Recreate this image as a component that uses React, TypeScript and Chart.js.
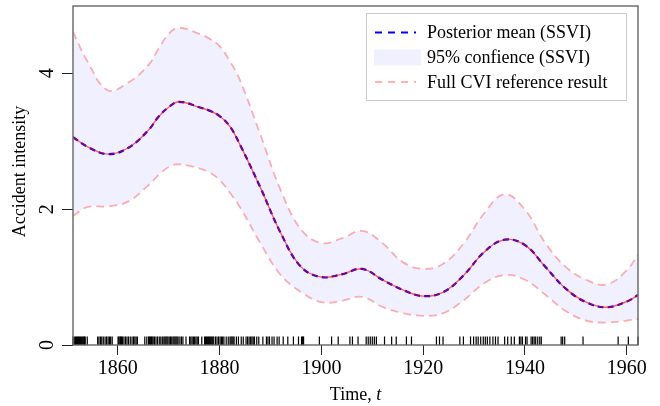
import React, { useEffect, useRef } from "react";
import { Chart, registerables } from "chart.js";

Chart.register(...registerables);

// ---------- data ----------
const years = [
  1851.2, 1854, 1858, 1862, 1866, 1868, 1870, 1872, 1876, 1878, 1880, 1882, 1884, 1888, 1892,
  1896, 1900, 1904, 1908, 1912, 1916, 1920, 1924, 1928, 1932, 1936, 1940, 1944, 1948, 1952,
  1956, 1960, 1962.2,
];
const meanIntensity = [
  3.06, 2.92, 2.81, 2.9, 3.16, 3.36, 3.5, 3.58, 3.5, 3.45, 3.37, 3.22, 2.95, 2.32, 1.65,
  1.15, 1.0, 1.04, 1.12, 0.96, 0.81, 0.72, 0.78, 1.03, 1.37, 1.55, 1.47, 1.15, 0.83, 0.63,
  0.555, 0.64, 0.735,
];
const upper95 = [
  4.61, 4.18, 3.75, 3.86, 4.12, 4.36, 4.58, 4.67, 4.58, 4.51, 4.4, 4.18, 3.9, 3.1, 2.28,
  1.7, 1.5, 1.57, 1.68, 1.5, 1.22, 1.12, 1.2, 1.5, 1.94, 2.22, 1.99, 1.5, 1.15, 0.96,
  0.89, 1.1, 1.33,
];
const lower95 = [
  1.9, 2.03, 2.04, 2.11, 2.35, 2.5, 2.62, 2.66, 2.6, 2.54, 2.43, 2.24, 2.03, 1.5, 1.03,
  0.78, 0.63, 0.65, 0.71, 0.56, 0.47, 0.43, 0.47, 0.66, 0.91, 1.03, 0.96, 0.74, 0.5, 0.36,
  0.33, 0.36, 0.38,
];
const eventTimes = [
  1851.2, 1851.45, 1851.7, 1851.9,
  1852.1, 1852.3, 1852.5, 1852.7, 1852.9,
  1853.1, 1853.3, 1853.45, 1853.6,
  1854.0,
  1856.05, 1856.3, 1856.6, 1856.85,
  1857.15, 1857.5, 1857.8,
  1858.1, 1858.35, 1858.6, 1858.9,
  1860.05, 1860.2, 1860.4, 1860.55, 1860.75, 1860.9,
  1861.2, 1861.5, 1861.8,
  1862.1, 1862.45, 1862.8,
  1863.1, 1863.35, 1863.6, 1863.85,
  1865.3, 1865.7,
  1866.05, 1866.2, 1866.4, 1866.6, 1866.75, 1866.95,
  1867.2, 1867.5, 1867.8,
  1868.15, 1868.45, 1868.75,
  1869.05, 1869.25, 1869.45, 1869.65, 1869.85,
  1870.1, 1870.35, 1870.6, 1870.85,
  1871.05, 1871.25, 1871.45, 1871.65, 1871.85,
  1872.2, 1872.5, 1872.8,
  1873.4,
  1874.1, 1874.35, 1874.6, 1874.85,
  1875.1, 1875.35, 1875.6, 1875.85,
  1876.5,
  1877.05, 1877.25, 1877.45, 1877.65, 1877.85,
  1878.05, 1878.25, 1878.45, 1878.65, 1878.85,
  1879.2, 1879.5, 1879.8,
  1880.1, 1880.35, 1880.6, 1880.85,
  1881.3, 1881.7,
  1882.05, 1882.25, 1882.45, 1882.65, 1882.85,
  1883.3, 1883.7,
  1884.25, 1884.65,
  1885.2, 1885.5, 1885.8,
  1886.1, 1886.35, 1886.6, 1886.85,
  1887.3, 1887.7,
  1888.5,
  1889.2, 1889.5, 1889.8,
  1890.3, 1890.7,
  1891.3, 1891.7,
  1892.5, 1893.4, 1894.5, 1895.5,
  1896.1, 1896.3, 1896.5,
  1899.6, 1902.0, 1903.3, 1905.6, 1906.1, 1907.2,
  1908.8, 1909.2, 1909.6, 1910.0, 1910.4, 1910.8,
  1912.4, 1913.8, 1914.7, 1916.7, 1917.7,
  1922.6, 1923.2, 1923.9, 1927.2, 1927.9,
  1929.3, 1929.9, 1930.4, 1930.8, 1931.3, 1931.8, 1932.2, 1932.6, 1933.1, 1933.7, 1934.2, 1934.7,
  1936.0, 1936.6, 1937.3, 1937.9, 1938.9, 1939.2, 1939.5, 1940.1, 1940.4,
  1941.2, 1941.5, 1941.8, 1942.1, 1942.5, 1942.9, 1943.2,
  1947.1, 1947.4, 1947.8, 1951.4, 1958.3, 1960.3, 1962.2,
];
const xTickValues = [1860, 1880, 1900, 1920, 1940, 1960];
const yTickValues = [0, 2, 4];
const legendLabels = ["Posterior mean (SSVI)", "95% confience (SSVI)", "Full CVI reference result"];
const xAxisTitle = "Time, ";
const xAxisVariable = "t";
const yAxisTitle = "Accident intensity";

// ---------- styling ----------
const SERIF = '"Liberation Serif", "Times New Roman", serif';
const BAND_FILL = "rgba(0,0,255,0.06)";
const CVI_COLOR = "rgba(255,0,0,0.3)";
const MEAN_BLUE = "#0000ff";
const CVI_MEAN = "rgba(255,0,0,0.62)";

const decorPlugin = {
  id: "decor",
  afterDatasetsDraw(chart: any) {
    const { ctx, chartArea: ca } = chart;
    ctx.save();
    // frame
    ctx.strokeStyle = "#666";
    ctx.lineWidth = 1.4;
    ctx.setLineDash([]);
    ctx.strokeRect(ca.left, ca.top, ca.right - ca.left, ca.bottom - ca.top);

    // legend
    const lx = ca.right - 272;
    const ly = ca.top + 7;
    const lw = 260;
    const lh = 87;
    ctx.fillStyle = "#ffffff";
    ctx.fillRect(lx, ly, lw, lh);
    ctx.strokeStyle = "#cccccc";
    ctx.lineWidth = 1;
    ctx.strokeRect(lx + 0.5, ly + 0.5, lw, lh);
    const rows = [ly + 19.5, ly + 44.5, ly + 69];
    // row 1: blue dashed
    ctx.strokeStyle = MEAN_BLUE;
    ctx.lineWidth = 2;
    ctx.setLineDash([7, 6]);
    ctx.beginPath();
    ctx.moveTo(lx + 9, rows[0]);
    ctx.lineTo(lx + 50, rows[0]);
    ctx.stroke();
    // row 2: fill patch
    ctx.setLineDash([]);
    ctx.fillStyle = BAND_FILL;
    ctx.fillRect(lx + 8, rows[1] - 8, 47, 16);
    // row 3: pink dashed
    ctx.strokeStyle = CVI_COLOR;
    ctx.lineWidth = 2;
    ctx.setLineDash([7, 6]);
    ctx.beginPath();
    ctx.moveTo(lx + 9, rows[2]);
    ctx.lineTo(lx + 50, rows[2]);
    ctx.stroke();
    ctx.setLineDash([]);
    ctx.fillStyle = "#000";
    ctx.font = `18px ${SERIF}`;
    ctx.textAlign = "left";
    ctx.textBaseline = "middle";
    legendLabels.forEach((t, i) => ctx.fillText(t, lx + 61, rows[i] + 1));
    ctx.restore();
  },
  afterDraw(chart: any) {
    const { ctx, chartArea: ca, scales } = chart;
    ctx.save();
    ctx.fillStyle = "#000";
    // y tick labels (rotated)
    ctx.font = `20px ${SERIF}`;
    ctx.textAlign = "center";
    ctx.textBaseline = "middle";
    scales.y.ticks.forEach((tk: any) => {
      const py = scales.y.getPixelForValue(tk.value);
      ctx.save();
      ctx.translate(ca.left - 26.5, py);
      ctx.rotate(-Math.PI / 2);
      ctx.fillText(String(tk.value), 0, 1);
      ctx.restore();
    });
    // y title
    ctx.font = `18px ${SERIF}`;
    ctx.save();
    ctx.translate(20, (ca.top + ca.bottom) / 2 - 4);
    ctx.rotate(-Math.PI / 2);
    ctx.fillText(yAxisTitle, 0, 0);
    ctx.restore();
    // x title with italic variable
    ctx.textAlign = "left";
    ctx.textBaseline = "alphabetic";
    ctx.font = `18px ${SERIF}`;
    const w1 = ctx.measureText(xAxisTitle).width;
    ctx.font = `italic 18px ${SERIF}`;
    const w2 = ctx.measureText(xAxisVariable).width;
    const cx = (ca.left + ca.right) / 2;
    const x0 = cx - (w1 + w2) / 2;
    ctx.font = `18px ${SERIF}`;
    ctx.fillText(xAxisTitle, x0, 400);
    ctx.font = `italic 18px ${SERIF}`;
    ctx.fillText(xAxisVariable, x0 + w1, 400);
    ctx.restore();
  },
};

const pts = (ys: number[]) => years.map((x, i) => ({ x, y: ys[i] }));

export default function App() {
  const canvasRef = useRef<HTMLCanvasElement | null>(null);

  useEffect(() => {
    const canvas = canvasRef.current;
    if (!canvas) return;
    const lineBase = {
      pointRadius: 0,
      pointHoverRadius: 0,
      tension: 0.4,
      fill: false,
    };
    const chart = new Chart(canvas, {
      type: "line",
      data: {
        datasets: [
          {
            ...lineBase,
            label: "band upper",
            data: pts(upper95),
            borderWidth: 0,
            borderColor: "rgba(0,0,0,0)",
            backgroundColor: BAND_FILL,
            fill: "+1",
            order: 10,
          },
          {
            ...lineBase,
            label: "band lower",
            data: pts(lower95),
            borderWidth: 0,
            borderColor: "rgba(0,0,0,0)",
            order: 10,
          },
          {
            ...lineBase,
            label: "CVI upper",
            data: pts(upper95),
            borderColor: CVI_COLOR,
            borderWidth: 1.8,
            borderDash: [8, 5],
            order: 5,
          },
          {
            ...lineBase,
            label: "CVI lower",
            data: pts(lower95),
            borderColor: CVI_COLOR,
            borderWidth: 1.8,
            borderDash: [8, 5],
            order: 5,
          },
          {
            ...lineBase,
            label: legendLabels[0],
            data: pts(meanIntensity),
            borderColor: MEAN_BLUE,
            borderWidth: 2.2,
            borderDash: [6, 4],
            order: 4,
          },
          {
            ...lineBase,
            label: "CVI mean",
            data: pts(meanIntensity),
            borderColor: CVI_MEAN,
            borderWidth: 1.4,
            order: 3,
          },
          {
            label: "events",
            data: eventTimes.map((t) => ({ x: t, y: 0.0625 })),
            showLine: false,
            pointStyle: "line",
            pointRotation: 90,
            pointRadius: 4.3,
            pointHoverRadius: 4.3,
            pointBorderWidth: 1.2,
            pointBorderColor: "#000",
            pointBackgroundColor: "#000",
            borderColor: "#000",
            clip: false,
            order: 1,
          } as any,
        ],
      },
      options: {
        responsive: false,
        animation: false,
        devicePixelRatio: 1,
        layout: { padding: { top: 6, right: 22, left: 0, bottom: 0 } },
        plugins: { legend: { display: false }, tooltip: { enabled: false } },
        events: [],
        scales: {
          x: {
            type: "linear",
            min: 1851.2,
            max: 1962.2,
            afterBuildTicks: (s: any) => {
              s.ticks = xTickValues.map((v) => ({ value: v }));
            },
            afterFit: (s: any) => {
              s.height = 61;
            },
            grid: { drawOnChartArea: false, tickLength: 10, color: "#222", lineWidth: 1 },
            border: { display: false },
            ticks: {
              font: { family: SERIF, size: 20 },
              color: "#000",
              padding: 2,
              maxRotation: 0,
              minRotation: 0,
              callback: (v: any) => String(v),
            },
          },
          y: {
            type: "linear",
            min: 0,
            max: 4.99,
            afterBuildTicks: (s: any) => {
              s.ticks = yTickValues.map((v) => ({ value: v }));
            },
            afterFit: (s: any) => {
              s.width = 73;
            },
            grid: { drawOnChartArea: false, tickLength: 11, color: "#222", lineWidth: 1 },
            border: { display: false },
            ticks: { display: false },
          },
        },
      },
      plugins: [decorPlugin],
    });
    return () => chart.destroy();
  }, []);

  return (
    <div style={{ position: "fixed", left: 0, top: 0, width: 660, height: 406, background: "#fff" }}>
      <canvas ref={canvasRef} width={660} height={406} style={{ display: "block" }} />
    </div>
  );
}
